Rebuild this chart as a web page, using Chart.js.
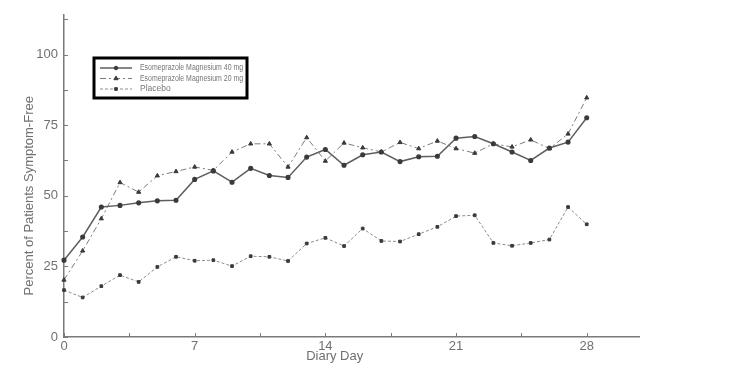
<!DOCTYPE html>
<html>
<head>
<meta charset="utf-8">
<script src="https://cdn.jsdelivr.net/npm/chart.js@4.4.1/dist/chart.umd.min.js"></script>
<style>
  html, body { margin: 0; padding: 0; background: #fff; }
  #wrap { width: 732px; height: 376px; position: relative; }
</style>
</head>
<body>
<div id="wrap"><canvas id="chart"></canvas></div>
<script>
// diary days 0..28
const days = [0, 1, 2, 3, 4, 5, 6, 7, 8, 9, 10, 11, 12, 13, 14, 15, 16, 17, 18, 19, 20, 21, 22, 23, 24, 25, 26, 27, 28];

// percent of patients symptom-free
const eso40 = [27.2, 35.4, 46.0, 46.6, 47.5, 48.2, 48.4, 55.8, 58.8, 54.8, 59.7, 57.2, 56.5, 63.7, 66.4,
               60.8, 64.5, 65.5, 62.1, 63.8, 64.0, 70.4, 71.0, 68.4, 65.5, 62.5, 66.9, 69.0, 77.6];
const eso20 = [20.2, 30.5, 41.9, 54.7, 51.3, 57.1, 58.6, 60.2, 59.0, 65.5, 68.4, 68.4, 60.2, 70.6, 62.3,
               68.7, 67.0, 65.5, 68.9, 66.7, 69.4, 66.7, 65.1, 68.4, 67.3, 69.8, 66.7, 71.9, 84.7];
const placebo = [16.6, 14.0, 18.0, 21.9, 19.5, 24.8, 28.4, 27.0, 27.2, 25.1, 28.6, 28.4, 26.9, 33.1, 35.1,
                 32.2, 38.4, 34.0, 33.8, 36.4, 39.0, 42.8, 43.1, 33.3, 32.3, 33.3, 34.5, 46.0, 39.9];

const seriesNames = ['Esomeprazole Magnesium 40 mg', 'Esomeprazole Magnesium 20 mg', 'Placebo'];

// axis ticks
const yTicks = [0, 12.5, 25, 37.5, 50, 62.5, 75, 87.5, 100, 112.5];
const yLabels = [0, 25, 50, 75, 100];
const xTicks = [0, 3.5, 7, 10.5, 14, 17.5, 21, 24.5, 28];
const xLabels = [0, 7, 14, 21, 28];

const axisColor = '#7a7a7a';
const textColor = '#707070';

const toPoints = vals => vals.map((v, i) => ({ x: days[i], y: v }));

// inward tick marks + axis titles
const axisDecor = {
    id: 'axisDecor',
    afterDraw(chart) {
        const { ctx, scales: { x, y } } = chart;
        ctx.save();
        ctx.strokeStyle = axisColor;
        ctx.lineWidth = 1;
        yTicks.forEach(v => {
            const py = Math.round(y.getPixelForValue(v)) + 0.5;
            ctx.beginPath();
            ctx.moveTo(x.left, py);
            ctx.lineTo(x.left + 4, py);
            ctx.stroke();
        });
        xTicks.forEach(v => {
            const px = Math.round(x.getPixelForValue(v)) + 0.5;
            ctx.beginPath();
            ctx.moveTo(px, y.bottom);
            ctx.lineTo(px, y.bottom - 4);
            ctx.stroke();
        });

        ctx.fillStyle = textColor;
        ctx.font = '13px "Liberation Sans", Arial, sans-serif';
        ctx.textAlign = 'center';
        ctx.textBaseline = 'middle';
        ctx.fillText('Diary Day', x.getPixelForValue(14.5), 356);

        ctx.translate(29, y.getPixelForValue(50));
        ctx.rotate(-Math.PI / 2);
        ctx.fillText('Percent of Patients Symptom-Free', 0, 0);
        ctx.restore();
    }
};

// boxed legend in the upper left
const boxLegend = {
    id: 'boxLegend',
    afterDraw(chart) {
        const { ctx } = chart;
        const bx = 94, by = 58, bw = 153, bh = 40;
        ctx.save();
        ctx.fillStyle = '#fff';
        ctx.fillRect(bx, by, bw, bh);
        ctx.strokeStyle = '#000';
        ctx.lineWidth = 3;
        ctx.strokeRect(bx, by, bw, bh);

        chart.data.datasets.forEach((ds, i) => {
            const ly = 68 + i * 10.5;
            ctx.strokeStyle = ds.borderColor;
            ctx.lineWidth = ds.borderWidth;
            ctx.setLineDash(ds.borderDash || []);
            ctx.beginPath();
            ctx.moveTo(100, ly);
            ctx.lineTo(132, ly);
            ctx.stroke();
            ctx.setLineDash([]);
            ctx.fillStyle = ds.pointBackgroundColor;
            ctx.strokeStyle = ds.pointBorderColor;
            ctx.lineWidth = 1;
            Chart.helpers.drawPoint(ctx, { pointStyle: ds.pointStyle, radius: ds.pointRadius, rotation: 0, borderWidth: 1 }, 116, ly);

            ctx.fillStyle = '#767676';
            ctx.font = '8.5px "Liberation Sans Narrow", "Liberation Sans", Arial, sans-serif';
            ctx.textAlign = 'left';
            ctx.textBaseline = 'middle';
            ctx.fillText(ds.label, 140, ly, 103);
        });
        ctx.restore();
    }
};

new Chart(document.getElementById('chart'), {
    type: 'line',
    data: {
        datasets: [
            {
                label: seriesNames[0],
                data: toPoints(eso40),
                borderColor: '#5e5e5e',
                borderWidth: 1.5,
                pointStyle: 'circle',
                pointRadius: 1.8,
                pointBackgroundColor: '#3a3a3a',
                pointBorderColor: '#3a3a3a',
                tension: 0
            },
            {
                label: seriesNames[1],
                data: toPoints(eso20),
                borderColor: '#7c7c7c',
                borderWidth: 1,
                borderDash: [6, 3, 2, 3],
                pointStyle: 'triangle',
                pointRadius: 2.4,
                pointBackgroundColor: '#3a3a3a',
                pointBorderColor: '#3a3a3a',
                tension: 0
            },
            {
                label: seriesNames[2],
                data: toPoints(placebo),
                borderColor: '#8c8c8c',
                borderWidth: 1,
                borderDash: [3, 2],
                pointStyle: 'rect',
                pointRadius: 1.9,
                pointBackgroundColor: '#3a3a3a',
                pointBorderColor: '#3a3a3a',
                tension: 0
            }
        ]
    },
    options: {
        responsive: true,
        maintainAspectRatio: false,
        animation: false,
        clip: false,
        layout: { padding: { top: 15, right: 93, left: 0, bottom: 0 } },
        scales: {
            x: {
                type: 'linear',
                min: 0,
                max: 30.8,
                afterBuildTicks: s => { s.ticks = xLabels.map(v => ({ value: v })); },
                afterFit: s => { s.height = 39; },
                grid: { display: true, drawOnChartArea: false, drawTicks: false },
                border: { display: true, color: axisColor, width: 1.5 },
                ticks: {
                    color: textColor,
                    padding: 2,
                    maxRotation: 0,
                    font: { family: '"Liberation Sans", Arial, sans-serif', size: 13 }
                }
            },
            y: {
                type: 'linear',
                min: 0,
                max: 114,
                afterBuildTicks: s => { s.ticks = yLabels.map(v => ({ value: v })); },
                afterFit: s => { s.width = 64; },
                grid: { display: true, drawOnChartArea: false, drawTicks: false },
                border: { display: true, color: axisColor, width: 1.5 },
                ticks: {
                    color: textColor,
                    padding: 6,
                    font: { family: '"Liberation Sans", Arial, sans-serif', size: 13 }
                }
            }
        },
        plugins: {
            legend: { display: false },
            tooltip: { enabled: false }
        }
    },
    plugins: [axisDecor, boxLegend]
});
</script>
</body>
</html>
